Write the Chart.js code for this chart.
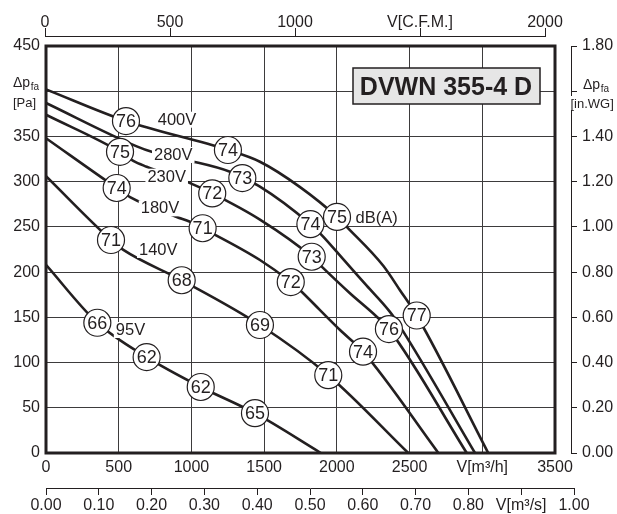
<!DOCTYPE html>
<html><head><meta charset="utf-8">
<script src="https://cdn.jsdelivr.net/npm/chart.js@4/dist/chart.umd.min.js"></script>
<style>html,body{margin:0;padding:0;background:#fff}canvas{display:block}</style>
</head><body>
<canvas id="c" width="617" height="514"></canvas>
<script>
const INK = '#231f20';
const GRID = '#3d3b3c';
const FONT = "'Liberation Sans', Arial, sans-serif";

// Fan curves: [V m3/h, dp Pa]
const curveLabels = ['400V', '280V', '230V', '180V', '140V', '95V'];
const curve400V = [[0,402],[550,367],[1251,335],[1471,322],[1747,294],[2001,261],[2068,250],[2319,207],[2434,180],[2549,152],[3041,0]];
const curve280V = [[0,387],[624,339],[727,333],[967,324],[1265,311],[1350,304],[1471,294.5],[1818,253],[1896,241],[2045,214],[2205,185],[2365,156],[2434,140],[2950,0]];
const curve230V = [[0,374],[509,333],[600,323],[692,316.5],[967,300],[1143,287],[1471,258],[1827,217],[1896,206],[2090,176.6],[2274,150.7],[2358,137],[2893,0]];
const curve180V = [[0,348],[486,293],[578,283],[899,261],[990,255.7],[1077,248.5],[1471,213.4],[1683,189],[1747,180],[1884,158],[2022,136],[2180,112],[2698,0]];
const curve140V = [[0,306],[447,235.5],[532,224.5],[933,191],[1471,141.5],[1941,86],[2491,0]];
const curve95V  = [[0,208],[353,144],[692,106],[1064,73],[1437,44],[1890,0]];
const curves = [curve400V, curve280V, curve230V, curve180V, curve140V, curve95V];

// Sound level markers dB(A)
const circleX  = [550,1251,2001,2549, 1350,1818, 509,1143,1827,2358, 486,1077,1683,2180, 447,933,1471,1941, 353,692,1064,1437];
const circleY  = [367,335,261,152, 304,253, 333,287,217,137, 293,248.5,189,112, 235.5,191,141.5,86, 144,106,73,44];
const circleDb = ['76','74','75','77', '73','74', '75','72','73','76', '74','71','72','74', '71','68','69','71', '66','62','62','65'];

// Voltage labels
const voltLabelX = [901, 875, 830, 784, 772, 581];
const voltLabelY = [368.5, 329.5, 305.5, 270.5, 224.5, 136];
const dbaLabel = 'dB(A)';
const dbaLabelX = 2274, dbaLabelY = 259.5;

// Axes
const flowMax = 3500, flowStep = 500;
const pressMax = 450, pressStep = 50;
const cfmMax = 2000, cfmStep = 500;
const m3sMax = 1, m3sStep = 0.1;
const inwgMax = 1.8, inwgStep = 0.2;
const title = 'DVWN 355-4 D';

const tickFont = {family: FONT, size: 16};

const decor = {
  id: 'decor',
  afterLayout(chart) {
    const s = chart.scales;
    s.xt.left = 45; s.xt.right = 545; s.xt.width = 500; s.xt.bottom = 36; s.xt.configure();
    s.xs.top = 488; s.xs.right = 574; s.xs.width = s.xs.right - s.xs.left; s.xs.configure();
    s.yr.left = 571; s.yr.width = s.yr.right - s.yr.left; s.yr.configure();
  },
  afterDatasetsDraw(chart) {
    const ctx = chart.ctx;
    const a = chart.chartArea;
    const sx = chart.scales.x, sy = chart.scales.y;
    ctx.save();
    // plot frame
    ctx.strokeStyle = INK; ctx.lineWidth = 3;
    ctx.strokeRect(a.left, a.top, a.right - a.left, a.bottom - a.top);
    // circle numbers
    const meta = chart.getDatasetMeta(curves.length);
    ctx.fillStyle = INK;
    ctx.font = '18px ' + FONT;
    ctx.textAlign = 'center'; ctx.textBaseline = 'middle';
    meta.data.forEach((el, i) => ctx.fillText(circleDb[i], el.x, el.y + 1));
    // voltage labels
    ctx.font = '16.5px ' + FONT;
    curveLabels.forEach((lab, i) => {
      const px = sx.getPixelForValue(voltLabelX[i]);
      const py = sy.getPixelForValue(voltLabelY[i]);
      const w = ctx.measureText(lab).width;
      ctx.fillStyle = '#fff';
      ctx.fillRect(px - w / 2 - 2, py - 8, w + 4, 16);
      ctx.fillStyle = INK;
      ctx.fillText(lab, px, py + 0.5);
    });
    ctx.fillText(dbaLabel, sx.getPixelForValue(dbaLabelX), sy.getPixelForValue(dbaLabelY) + 0.5);
    // title box
    ctx.fillStyle = '#e6e6e6';
    ctx.fillRect(353, 68, 187, 36);
    ctx.lineWidth = 1.5; ctx.strokeStyle = INK;
    ctx.strokeRect(353, 68, 187, 36);
    ctx.fillStyle = INK;
    ctx.font = 'bold 25px ' + FONT;
    ctx.textBaseline = 'alphabetic';
    ctx.fillText(title, 446, 95);
    // axis titles
    ctx.textAlign = 'left';
    const dp = (x, y) => {
      ctx.font = '14px ' + FONT;
      ctx.fillText('\u0394p', x, y);
      const w = ctx.measureText('\u0394p').width;
      ctx.font = '10px ' + FONT;
      ctx.fillText('fa', x + w + 0.5, y + 3);
    };
    dp(13, 87);
    ctx.font = '13px ' + FONT;
    ctx.fillText('[Pa]', 13, 107);
    dp(583, 89);
    ctx.font = '13px ' + FONT;
    const wi = ctx.measureText('[in.WG]').width;
    ctx.fillStyle = '#fff';
    ctx.fillRect(570, 96, wi + 1, 14);
    ctx.fillStyle = INK;
    ctx.fillText('[in.WG]', 570.5, 108);
    ctx.restore();
  }
};

const datasets = curves.map((pts, i) => ({
  label: curveLabels[i],
  data: pts.map(p => ({x: p[0], y: p[1]})),
  borderColor: INK, borderWidth: 2.6, pointRadius: 0,
  cubicInterpolationMode: 'monotone', fill: false, order: 1,
  xAxisID: 'x', yAxisID: 'y'
}));
datasets.push({
  label: 'dB(A)',
  data: circleX.map((x, i) => ({x: x, y: circleY[i]})),
  showLine: false, pointRadius: 13.5, pointBackgroundColor: '#fff',
  pointBorderColor: INK, pointBorderWidth: 1.2, order: 0,
  xAxisID: 'x', yAxisID: 'y'
});

const near = (a, b) => Math.abs(a - b) < 1e-6;

new Chart(document.getElementById('c'), {
  type: 'line',
  data: {datasets},
  plugins: [decor],
  options: {
    responsive: false, animation: false, events: [],
    layout: {padding: 0},
    plugins: {legend: {display: false}, tooltip: {enabled: false}},
    scales: {
      x: {type: 'linear', position: 'bottom', weight: 0, min: 0, max: flowMax,
        afterFit(s) { s.height = 30; },
        grid: {color: GRID, lineWidth: 1, drawTicks: false},
        border: {display: false},
        ticks: {stepSize: flowStep, padding: 5, maxRotation: 0, autoSkip: false, font: tickFont, color: INK,
          callback: v => v === 3000 ? 'V[m\u00B3/h]' : String(v)}},
      xs: {type: 'linear', position: 'bottom', weight: 1, min: 0, max: m3sMax,
        afterFit(s) { s.height = 31; },
        grid: {drawOnChartArea: false, tickLength: 7, color: INK, lineWidth: 1},
        border: {display: true, color: INK, width: 1},
        ticks: {stepSize: m3sStep, padding: 1, maxRotation: 0, autoSkip: false, font: tickFont, color: INK,
          callback: v => near(v, 0.9) ? 'V[m\u00B3/s]' : Number(v).toFixed(2)}},
      xt: {type: 'linear', position: 'top', min: 0, max: cfmMax,
        afterFit(s) { s.height = 46; },
        grid: {drawOnChartArea: false, tickLength: 8, color: INK, lineWidth: 1},
        border: {display: true, color: INK, width: 1},
        ticks: {stepSize: cfmStep, padding: -4, maxRotation: 0, autoSkip: false, font: tickFont, color: INK,
          callback: v => v === 1500 ? 'V[C.F.M.]' : String(v)}},
      y: {type: 'linear', position: 'left', min: 0, max: pressMax,
        afterFit(s) { s.width = 46; },
        grid: {color: GRID, lineWidth: 1, drawTicks: false},
        border: {display: false},
        ticks: {stepSize: pressStep, padding: 6, autoSkip: false, font: tickFont, color: INK,
          callback: v => v === 400 ? '' : String(v)}},
      yr: {type: 'linear', position: 'right', min: 0, max: inwgMax,
        afterFit(s) { s.width = 62; },
        grid: {drawOnChartArea: false, tickLength: 6, color: INK, lineWidth: 1},
        border: {display: true, color: INK, width: 1},
        ticks: {stepSize: inwgStep, padding: 5, autoSkip: false, font: tickFont, color: INK,
          callback: v => near(v, 1.6) ? '' : Number(v).toFixed(2)}}
    }
  }
});
</script>
</body></html>
